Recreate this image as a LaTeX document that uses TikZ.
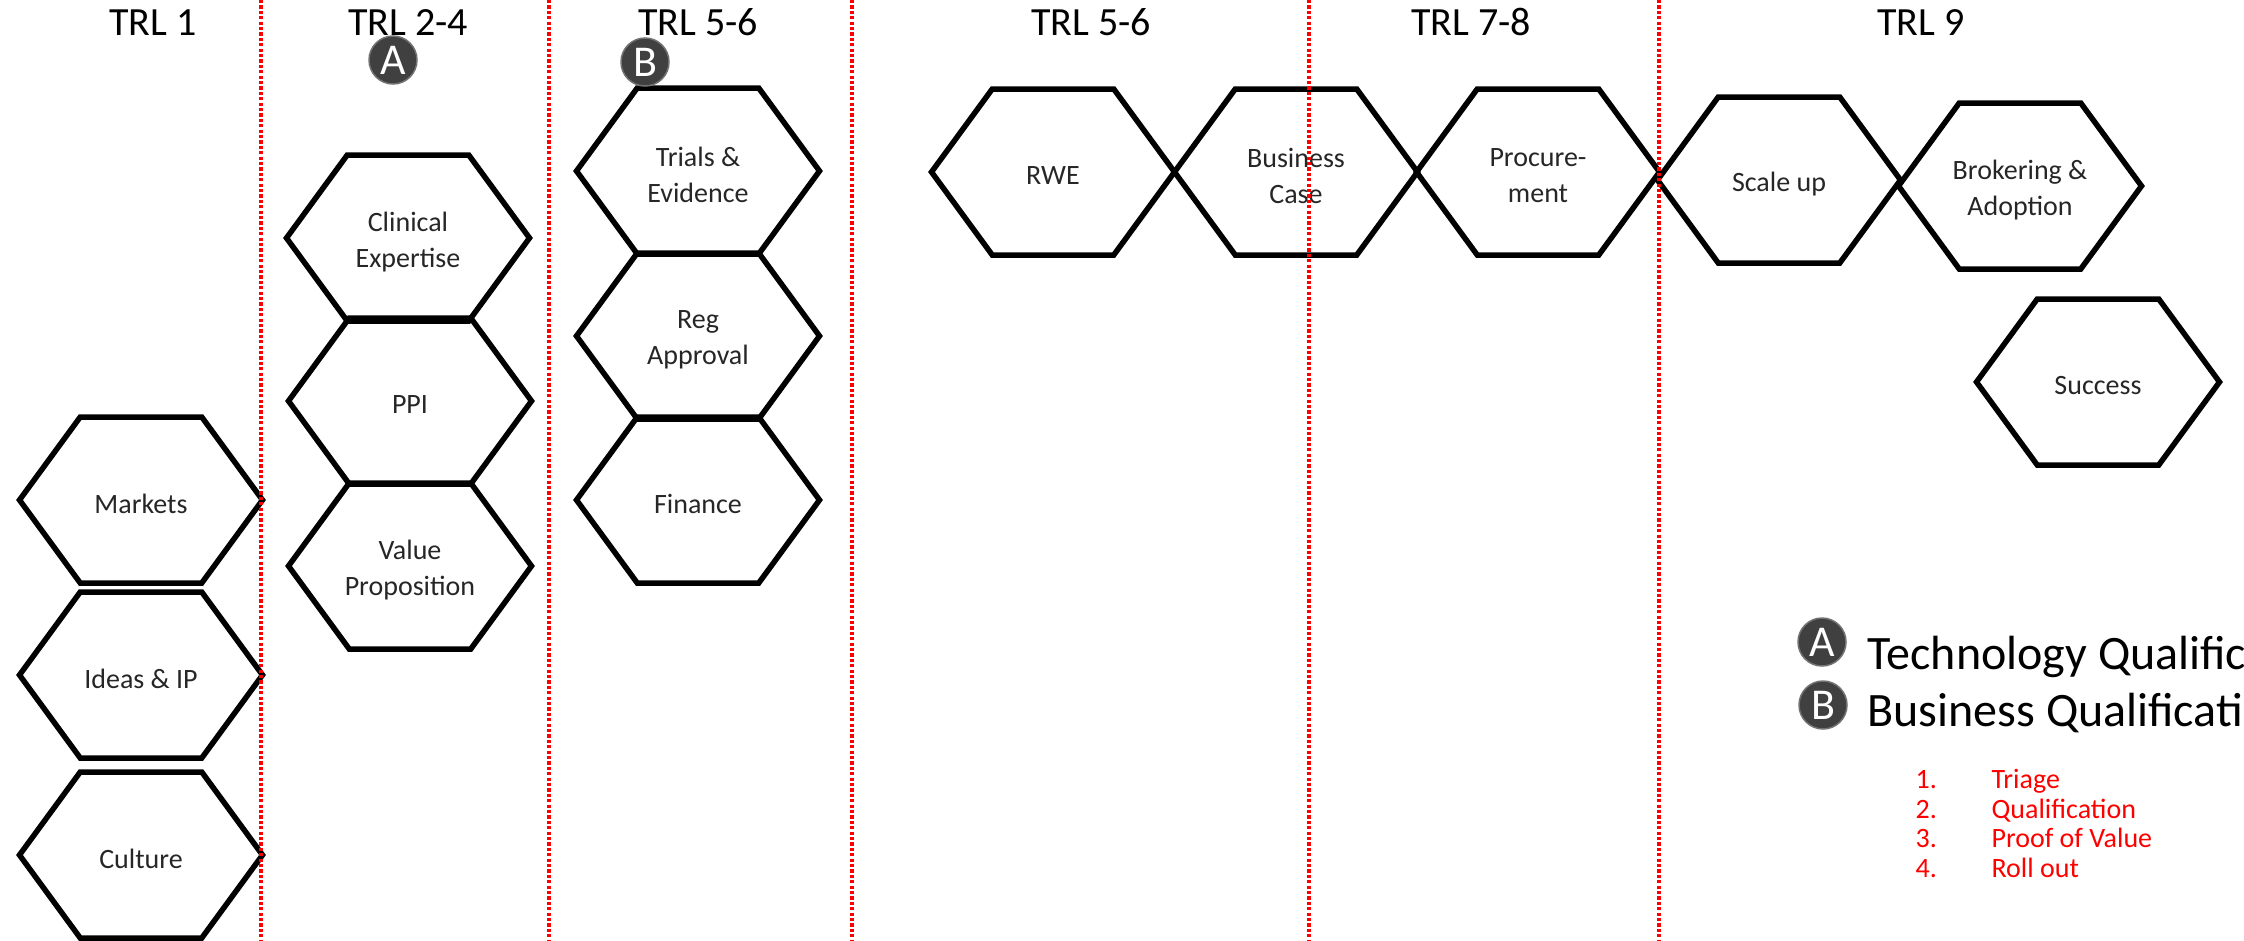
\documentclass[tikz,border=0pt]{standalone}
\usepackage{fontspec}
\setmainfont{Carlito}
\usepackage{xcolor}
\usepackage{tikz}
\usetikzlibrary{calc}
\definecolor{badgegray}{HTML}{404040}
\tikzset{
  Hcell/.style={align=center, font=\fontsize{28}{36}\selectfont, text=black!85,
               inner sep=0pt, yshift=-4pt},
  Hline/.style={line width=5.5pt, line join=miter},
  Trl/.style={anchor=base, font=\fontsize{40}{40}\selectfont},
  Vsep/.style={red, line width=3.6pt, dash pattern=on 3.2pt off 2.2pt},
  Badge/.style={circle, fill=badgegray, draw=black!55, line width=1.5pt,
               minimum size=48pt, inner sep=0pt, text=white,
               font=\fontsize{44}{44}\selectfont},
  Legt/.style={anchor=base west, font=\fontsize{48}{48}\selectfont},
  Stept/.style={anchor=base west, text=red, font=\fontsize{28}{28}\selectfont}
}

\begin{document}
\begin{tikzpicture}[x=1pt, y=-1pt]
  \clip (0,0) rectangle (2244,940);
  \useasboundingbox (0,0) rectangle (2244,940);

  % TRL headers
  \node[Trl] (trl1) at (153,35) {TRL 1};
  \node[Trl] (trl2) at (408,35) {TRL 2-4};
  \node[Trl] (trl3) at (698,35) {TRL 5-6};
  \node[Trl] (trl4) at (1091,35) {TRL 5-6};
  \node[Trl] (trl5) at (1471,35) {TRL 7-8};
  \node[Trl] (trl6) at (1921,35) {TRL 9};

  % hexagon cells
  \node[Hcell] (mkt) at (141,500) {Markets};
  \node[Hcell] (idea) at (141,675) {Ideas \& IP};
  \node[Hcell] (cult) at (141,855) {Culture};
  \node[Hcell] (clin) at (408,238) {Clinical\\Expertise};
  \node[Hcell] (ppi) at (410,401) {PPI};
  \node[Hcell] (vprop) at (410,566) {Value\\Proposition};
  \node[Hcell] (trial) at (698,171) {Trials \&\\Evidence};
  \node[Hcell] (reg) at (698,336) {Reg\\Approval};
  \node[Hcell] (fin) at (698,500) {Finance};
  \node[Hcell] (rwe) at (1053,172) {RWE};
  \node[Hcell] (bcase) at (1296,172) {Business\\Case};
  \node[Hcell] (proc) at (1538,172) {Procure-\\ment};
  \node[Hcell] (scale) at (1779,180) {Scale up};
  \node[Hcell] (brok) at (2020,186) {Brokering \&\\Adoption};
  \node[Hcell] (succ) at (2098,382) {Success};
  \foreach \h in {mkt,idea,cult,clin,ppi,vprop,trial,reg,fin,rwe,bcase,proc,scale,brok,succ}
    \draw[Hline] (\h.center) ++(0,-4) ++(-121.5,0) -- ++(60.75,-83) -- ++(121.5,0)
      -- ++(60.75,83) -- ++(-60.75,83) -- ++(-121.5,0) -- cycle;

  % qualification badges
  \node[Badge] (bdgA) at (393,60) {A};
  \node[Badge] (bdgB) at (645,62) {B};

  % legend
  \node[Badge] (legA) at (1822,642) {A};
  \node[Badge] (legB) at (1823,705) {B};
  \node[Legt] (legAt) at (1864,669) {Technology Qualification};
  \node[Legt] (legBt) at (1864,726) {Business Qualification};
  \foreach \s [count=\i] in {Triage,Qualification,Proof of Value,Roll out} {
    \node[Stept] (num\i) at (1912,759+29.5*\i) {\i.};
    \node[Stept] (stp\i) at (1988,759+29.5*\i) {\s};
  }

  % TRL separators
  \foreach \xs in {261,549,852,1309,1659}
    \draw[Vsep] (\xs,0) -- (\xs,940);
\end{tikzpicture}
\end{document}
